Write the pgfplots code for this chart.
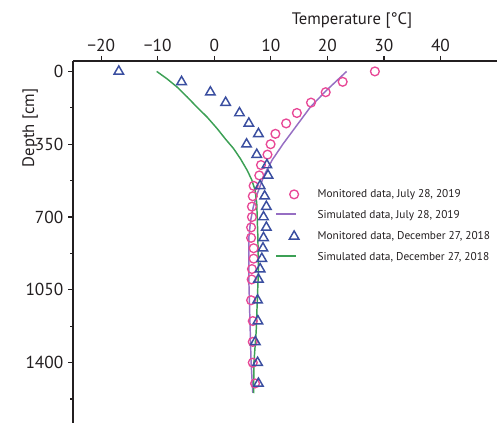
\documentclass[border=0pt]{standalone}
\usepackage{fontspec}
\setmainfont{PT Sans}
\usepackage{pgfplots}
\pgfplotsset{compat=1.18}
\definecolor{julMon}{RGB}{232,72,150}
\definecolor{julSim}{RGB}{150,110,195}
\definecolor{decMon}{RGB}{58,78,160}
\definecolor{decSim}{RGB}{60,160,85}
\definecolor{axgray}{RGB}{35,31,32}
\pgfplotsset{
  lineleg/.style={legend image code/.code={\draw[draw=#1, line width=1.5pt] (0pt,1pt) -- (15pt,1pt);}},
  markleg/.style={legend image code/.code={\draw[mark repeat=2,mark phase=2,##1] plot coordinates {(0pt,0pt)(13.5pt,0pt)(27pt,0pt)};}},
}

\begin{document}
\begin{tikzpicture}
\begin{axis}[
  scale only axis,
  width=318pt, height=271.5pt,
  xmin=-25, xmax=50,
  ymin=-50, ymax=1690,
  y dir=reverse,
  axis x line*=top,
  axis y line*=left,
  x axis line style={-, line width=1pt, axgray},
  y axis line style={-, line width=1pt, axgray},
  xtick={-20,-10,0,10,20,30,40},
  xticklabels={−20,−10,0,10,20,30,40},
  ytick={0,350,700,1050,1400},
  minor ytick={175,525,875,1225,1575},
  tick align=outside,
  major tick length=3.75pt,
  minor tick length=2pt,
  tick style={line width=0.9pt, axgray},
  /pgf/number format/assume math mode=true,
  /pgf/number format/set thousands separator={},
  tick label style={font=\fontsize{13}{14}\selectfont, text=axgray},
  xlabel={Temperature [°C]},
  ylabel={Depth [cm]},
  label style={font=\fontsize{12.5}{14}\selectfont, text=axgray},
  xlabel style={at={(axis description cs:0.658,1.100)}, anchor=base},
  ylabel style={at={(axis description cs:-0.101,0.815)}, anchor=center},
  legend cell align=left,
  legend style={at={(axis cs:10,540)}, anchor=north west, draw=none, fill=none,
    font=\fontsize{8.5}{10}\selectfont, text=axgray, row sep=4.2pt,
    /tikz/every odd column/.append style={column sep=12pt}},
  clip=false,
]

% picture frame, as in the reference
\coordinate (bbsw) at (axis description cs:-0.1722,0);
\coordinate (bbne) at (axis description cs:1,1.1685);

% Monitored data, July 28, 2019
\addplot [only marks, mark=o, mark size=3.3pt, julMon, line width=1pt, markleg]
  coordinates {
    (28.4,0) (22.7,50) (19.7,100) (17.1,150) (14.6,200) (12.7,250)
    (10.8,300) (9.95,350) (9.4,400) (8.25,450) (7.95,500) (6.95,550)
    (6.8,600) (6.65,650) (6.65,700) (6.5,750) (6.5,800) (6.95,850)
    (6.95,900) (6.65,950) (6.6,1000) (6.5,1100) (6.8,1200) (6.8,1300)
    (6.8,1400) (7.2,1500)
  };
\addlegendentry{Monitored data, July 28, 2019}

% Simulated data, July 28, 2019
\addplot [julSim, line width=1.1pt, no marks, lineleg=julSim]
  coordinates {
    (23.4,0) (19.8,92) (17.0,171) (14.6,259) (12.2,347) (10.2,427)
    (8.8,500) (7.5,595) (6.9,650) (6.4,720) (6.1,800) (6.1,1000)
    (6.3,1200) (6.5,1400) (6.8,1545)
  };
\addlegendentry{Simulated data, July 28, 2019}

% Monitored data, December 27, 2018
\addplot [only marks, mark=triangle, mark size=4.1pt, decMon, line width=1.1pt, markleg]
  coordinates {
    (-16.9,0) (-5.8,50) (-0.7,100) (2.0,150) (4.45,200) (6.1,250)
    (7.8,300) (5.7,350) (7.5,400) (9.3,450) (9.5,500) (8.1,550)
    (8.9,600) (9.2,650) (8.7,700) (9.2,750) (8.7,800) (8.6,850)
    (8.4,900) (8.1,950) (7.8,1000) (7.65,1100) (7.7,1200) (7.25,1300)
    (7.65,1400) (7.8,1500)
  };
\addlegendentry{Monitored data, December 27, 2018}

% Simulated data, December 27, 2018
\addplot [decSim, line width=1.1pt, no marks, lineleg=decSim]
  coordinates {
    (-10.2,0) (-8.4,35) (-6.6,75) (-4.8,123) (-3.1,171) (-1.3,219)
    (0.5,275) (1.9,323) (3.4,371) (4.6,419) (5.8,475) (6.6,520)
    (7.2,570) (7.5,634) (7.7,795) (7.8,954) (7.6,1100) (7.4,1250)
    (7.0,1400) (6.95,1547)
  };
\addlegendentry{Simulated data, December 27, 2018}

\end{axis}
\pgfresetboundingbox
\path[use as bounding box] (bbsw) rectangle (bbne);
\end{tikzpicture}
\end{document}
